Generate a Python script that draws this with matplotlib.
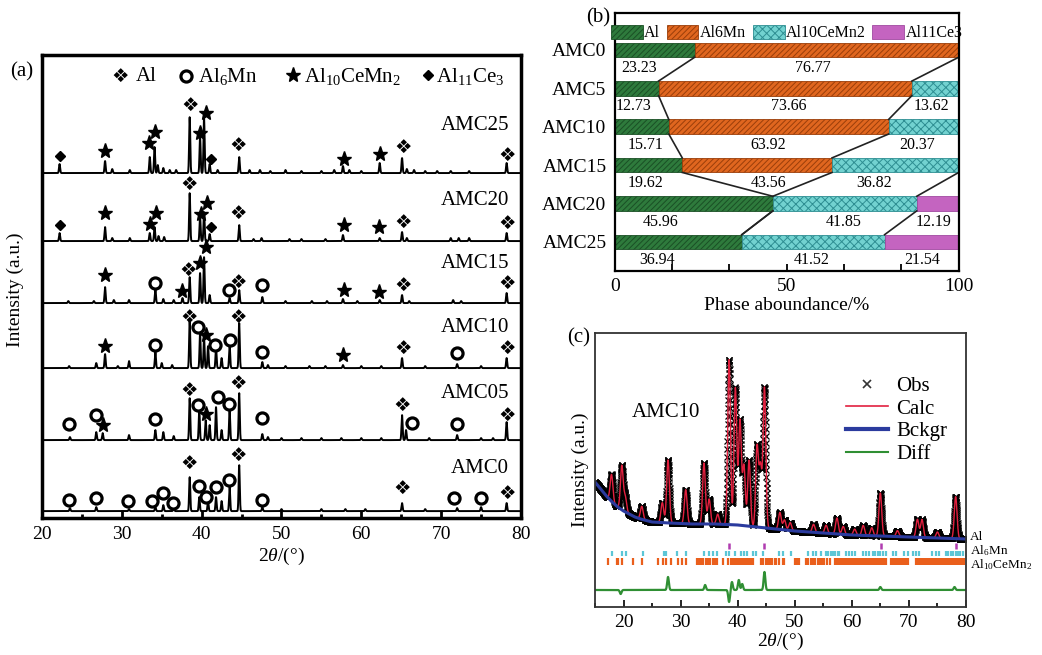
import numpy as np
import matplotlib.pyplot as plt
from matplotlib.ticker import MultipleLocator
from matplotlib.lines import Line2D

plt.rcParams['font.family'] = ['Liberation Serif', 'DejaVu Sans']
plt.rcParams['mathtext.fontset'] = 'custom'
plt.rcParams['mathtext.rm'] = 'Liberation Serif'
plt.rcParams['mathtext.it'] = 'Liberation Serif:italic'
plt.rcParams['hatch.linewidth'] = 0.7

# ---------------- (a) XRD patterns ----------------
samples_a = ['AMC0', 'AMC05', 'AMC10', 'AMC15', 'AMC20', 'AMC25']

pos_amc0 = [23.5, 26.8, 30.9, 34.2, 35.2, 36.5, 38.5, 39.7, 40.8, 41.8, 42.5, 43.5, 44.7,
            47.6, 50.0, 55.0, 58.0, 60.5, 65.1, 68.0, 72.0, 75.0, 78.2]
h_amc0 = [3, 4, 2, 4, 6, 3, 34, 14, 10, 14, 10, 24, 46,
          4, 2, 2, 2, 2, 8, 2, 3, 4, 8]

pos_amc05 = [23.5, 26.8, 27.6, 30.9, 34.2, 35.2, 36.5, 38.5, 39.7, 40.5, 41.0, 41.8, 42.5,
             43.5, 44.7, 47.6, 48.3, 50.0, 52.5, 55.0, 57.5, 60.0, 62.5, 65.1, 65.6, 68.5,
             72.0, 75.0, 76.5, 78.2]
h_amc05 = [3, 8, 7, 5, 10, 8, 4, 42, 30, 20, 15, 33, 10,
           30, 47, 6, 3, 2, 2, 2, 2, 2, 2, 25, 10, 2,
           5, 2, 2, 18]

pos_amc10 = [23.4, 26.8, 27.9, 29.5, 30.9, 34.2, 35.0, 36.3, 38.5, 39.8, 40.3, 40.8, 41.8,
             42.5, 43.5, 44.7, 47.6, 48.3, 50.5, 53.5, 55.5, 57.7, 60.0, 62.5, 65.1, 68.0,
             72.0, 75.0, 78.2]
h_amc10 = [2, 5, 14, 2, 7, 16, 5, 3, 48, 35, 30, 22, 20,
           10, 23, 45, 6, 3, 2, 2, 2, 3, 2, 2, 10, 2,
           4, 2, 10]

pos_amc15 = [23.3, 26.5, 27.9, 29.0, 30.9, 34.2, 35.2, 36.5, 37.6, 38.5, 39.8, 40.3, 41.0,
             43.5, 44.7, 47.6, 50.5, 53.8, 55.7, 57.7, 59.5, 62.3, 65.1, 66.0, 71.5, 72.5, 78.2]
h_amc15 = [2, 2, 16, 3, 3, 14, 4, 3, 5, 26, 30, 46, 8,
           5, 13, 6, 2, 2, 2, 4, 2, 3, 8, 2, 3, 2, 10]

pos_amc20 = [22.2, 27.9, 28.8, 31.0, 33.5, 34.1, 34.6, 35.3, 38.5, 39.8, 40.3, 41.0, 44.7,
             46.5, 47.5, 51.0, 52.5, 55.5, 57.7, 62.3, 65.1, 65.7, 71.2, 72.2, 73.5, 78.2]
h_amc20 = [8, 14, 3, 3, 8, 14, 5, 4, 48, 24, 29, 7, 16,
           2, 3, 2, 2, 2, 6, 3, 9, 3, 3, 3, 3, 8]

pos_amc25 = [22.2, 27.9, 28.8, 31.0, 33.5, 34.1, 34.5, 35.2, 36.0, 36.8, 38.5, 39.8, 40.3,
             41.0, 42.0, 44.7, 46.0, 47.3, 48.6, 50.5, 52.5, 55.0, 56.6, 57.7, 58.5, 60.0,
             62.3, 65.1, 65.7, 66.6, 68.0, 69.5, 71.2, 73.5, 78.2]
h_amc25 = [9, 12, 4, 3, 16, 26, 8, 5, 3, 3, 56, 36, 55,
           9, 3, 16, 3, 3, 2, 3, 2, 2, 3, 7, 3, 2,
           10, 15, 4, 3, 2, 2, 2, 2, 10]

# phase marks: (phase, 2theta, height above the pattern baseline)
marks_amc0 = [('mn', 23.4, 11), ('mn', 26.8, 13), ('mn', 30.8, 10), ('mn', 33.8, 10),
              ('mn', 35.1, 18), ('mn', 36.4, 8), ('al', 38.4, 48), ('mn', 39.7, 25),
              ('mn', 40.6, 14), ('mn', 41.8, 24), ('mn', 43.4, 31), ('al', 44.6, 56),
              ('mn', 47.6, 11), ('al', 65.1, 23), ('mn', 71.6, 13), ('mn', 75.0, 13),
              ('al', 78.3, 18)]
marks_amc05 = [('mn', 23.4, 16), ('mn', 26.8, 25), ('ce', 27.7, 15), ('mn', 34.1, 21),
               ('al', 38.4, 50), ('mn', 39.6, 35), ('ce', 40.5, 26), ('mn', 42.0, 43),
               ('mn', 43.4, 36), ('al', 44.6, 57), ('mn', 47.6, 22), ('al', 65.1, 35),
               ('mn', 66.3, 17), ('mn', 72.0, 16), ('al', 78.3, 25)]
marks_amc10 = [('ce', 27.9, 22), ('mn', 34.2, 23), ('al', 38.4, 51), ('mn', 39.6, 41),
               ('ce', 40.6, 33), ('mn', 41.7, 23), ('mn', 43.5, 28), ('al', 44.6, 51),
               ('mn', 47.6, 16), ('ce', 57.7, 13), ('al', 65.2, 20), ('mn', 72.0, 15),
               ('al', 78.3, 20)]
marks_amc15 = [('ce', 27.9, 28), ('mn', 34.2, 20), ('ce', 37.5, 12), ('al', 38.3, 33),
               ('ce', 39.8, 40), ('ce', 40.5, 56), ('mn', 43.4, 13), ('al', 44.6, 21),
               ('mn', 47.6, 18), ('ce', 57.8, 13), ('ce', 62.2, 11), ('al', 65.2, 18),
               ('al', 78.3, 20)]
marks_amc20 = [('ce3', 22.2, 16), ('ce', 27.9, 28), ('ce', 33.5, 17), ('ce', 34.3, 28),
               ('al', 38.4, 57), ('ce', 39.9, 27), ('ce', 40.7, 38), ('ce3', 41.2, 14),
               ('al', 44.6, 28), ('ce', 57.8, 16), ('ce', 62.2, 14), ('al', 65.2, 19),
               ('al', 78.3, 18)]
marks_amc25 = [('ce3', 22.2, 17), ('ce', 27.9, 22), ('ce', 33.4, 30), ('ce', 34.2, 41),
               ('al', 38.5, 68), ('ce', 40.5, 60), ('ce', 39.8, 40), ('ce3', 41.2, 14),
               ('al', 44.6, 28), ('ce', 57.8, 14), ('ce', 62.3, 19), ('al', 65.2, 26),
               ('al', 78.3, 18)]

# ---------------- (b) phase abundance ----------------
samples_b = ['AMC0', 'AMC5', 'AMC10', 'AMC15', 'AMC20', 'AMC25']
frac_al = [23.23, 12.73, 15.71, 19.62, 45.96, 36.94]
frac_al6mn = [76.77, 73.66, 63.92, 43.56, 0, 0]
frac_al10cemn2 = [0, 13.62, 20.37, 36.82, 41.85, 41.52]
frac_al11ce3 = [0, 0, 0, 0, 12.19, 21.54]

# ---------------- (c) Rietveld refinement of AMC10 ----------------
bg_x = [15, 16, 17, 18, 19, 20, 21, 22, 23, 25, 28, 32, 36, 40, 45, 50, 55, 60, 65, 70, 75, 80]
bg_y = [125, 118, 111, 105, 100, 96, 93, 90, 88, 85, 84, 83, 83, 82, 79, 76, 74, 72, 71, 70, 69, 68]
calc_pos = [17.9, 19.7, 20.3, 23.2, 26.8, 27.8, 30.9, 34.1, 35.0, 36.5, 38.5, 39.6, 40.4,
            41.1, 42.0, 43.4, 44.0, 44.7, 47.4, 48.2, 49.2, 53.3, 55.5, 57.4, 58.5, 60.5,
            62.0, 63.5, 65.0, 68.0, 71.5, 72.3, 75.0, 78.2]
calc_h = [27, 44, 15, 13, 20, 63, 34, 61, 25, 10, 165, 137, 105,
          60, 66, 80, 60, 140, 17, 10, 8, 8, 8, 16, 8, 6,
          10, 8, 43, 6, 18, 18, 6, 42]
diff_pos = [19.5, 27.8, 34.3, 38.5, 39.0, 40.2, 40.8, 44.7, 65.0, 78.0]
diff_h = [-4, 13, 5, -12, 8, 10, 6, 18, 3, 3]
ticks_al = [38.5, 44.7, 65.1, 78.2]
ticks_al6mn = [17.9, 19.8, 20.4, 23.4, 27.1, 27.4, 29.3, 31.0, 34.1, 35.0, 35.7, 36.4, 38.0,
               38.4, 39.5, 40.6, 41.1, 41.7, 42.7, 43.3, 44.5, 47.3, 47.9, 49.4, 52.3, 53.2,
               53.8, 54.6, 55.5, 55.9, 56.3, 56.7, 57.1, 57.5, 57.8, 59.0, 59.5, 60.0, 60.6,
               61.9, 62.5, 63.1, 63.7, 64.1, 64.6, 65.0, 65.5, 66.0, 67.2, 67.7, 69.2, 69.8,
               70.7, 71.2, 71.8, 74.1, 74.7, 75.3, 76.5, 76.9, 77.3, 77.8, 78.2, 78.6, 79.0, 79.4]
ticks_al10cemn2 = [17.3, 18.8, 19.1, 19.7, 21.7, 23.2, 26.1, 26.9, 27.5, 28.4, 29.6, 30.2, 31.0,
                   32.8, 33.2, 33.6, 34.0, 34.4, 34.8, 35.2, 35.6, 36.0, 36.3, 37.4, 38.3,
                   38.9, 39.2, 39.6, 39.9, 40.3, 40.6, 41.0, 41.3, 41.7, 42.0, 42.4, 42.7,
                   44.1, 44.5, 44.9, 45.3, 45.7, 46.1, 46.5, 46.8, 47.3, 47.9, 48.2, 50.0,
                   50.4, 50.8, 52.0, 52.4, 52.8, 53.2, 53.6, 54.0, 54.4, 54.8, 55.2, 55.6,
                   56.1, 57.0, 57.3, 57.6, 57.9, 58.2, 58.5, 58.8, 59.1, 59.4, 59.7, 60.0,
                   60.3, 60.6, 60.9, 61.2, 61.5, 61.8, 62.1, 62.4, 62.7, 63.0, 63.3, 63.6,
                   63.9, 64.2, 64.5, 64.8, 65.1, 65.4, 65.7, 66.0, 66.9, 67.2, 67.5, 67.8,
                   68.1, 68.4, 68.7, 69.0, 69.3, 69.6, 69.9, 71.2, 71.5, 71.8, 72.1, 72.4,
                   72.7, 73.0, 73.3, 73.6, 73.9, 74.2, 74.5, 74.8, 75.1, 75.4, 75.7, 76.0,
                   76.3, 76.6, 76.9, 77.2, 77.5, 77.8, 78.1, 78.4, 78.7, 79.0, 79.3, 79.6]


def peaks(x, pos, h, w):
    y = np.zeros_like(x)
    for p, a in zip(pos, h):
        y += a * np.exp(-0.5 * ((x - p) / w) ** 2)
    return y


fig = plt.figure(figsize=(10.42, 6.55), dpi=100)

# ================= panel (a) =================
ax = fig.add_axes([0.0403, 0.209, 0.4597, 0.707])
x = np.linspace(20, 80, 4001)
all_pos = [pos_amc0, pos_amc05, pos_amc10, pos_amc15, pos_amc20, pos_amc25]
all_h = [h_amc0, h_amc05, h_amc10, h_amc15, h_amc20, h_amc25]
all_marks = [marks_amc0, marks_amc05, marks_amc10, marks_amc15, marks_amc20, marks_amc25]
offsets = [7, 78, 150, 215, 277, 345]
label_dy = [43, 47, 41, 40, 41, 48]


def draw_mark(ax, kind, xx, yy):
    if kind == 'al':
        ax.text(xx, yy, '\u2756', fontsize=14, ha='center', va='center',
                family=['DejaVu Sans'])
    elif kind == 'mn':
        ax.plot(xx, yy, 'o', ms=8, mfc='white', mec='black', mew=2.3)
    elif kind == 'ce':
        ax.plot(xx, yy, '*', ms=11, color='black')
    else:
        ax.plot(xx, yy, 'D', ms=5.5, color='black')


for name, pos, h, marks, off, dy in zip(samples_a, all_pos, all_h, all_marks, offsets, label_dy):
    ax.plot(x, off + peaks(x, pos, h, 0.07), color='black', lw=1.4)
    for kind, tt, hh in marks:
        draw_mark(ax, kind, tt, off + hh)
    ax.text(78.5, off + dy, name, fontsize=15, ha='right', va='center')

# symbol key
draw_mark(ax, 'al', 29.75, 442)
ax.text(31.8, 442, 'Al', fontsize=15, va='center')
draw_mark(ax, 'mn', 38.1, 442)
ax.text(39.6, 442, 'Al$_6$Mn', fontsize=15, va='center')
draw_mark(ax, 'ce', 51.4, 443)
ax.text(52.8, 442, 'Al$_{10}$CeMn$_2$', fontsize=15, va='center')
draw_mark(ax, 'ce3', 68.4, 443)
ax.text(69.3, 442, 'Al$_{11}$Ce$_3$', fontsize=15, va='center')

ax.set_xlim(20, 80)
ax.set_ylim(0, 463)
ax.set_yticks([])
ax.xaxis.set_major_locator(MultipleLocator(10))
ax.xaxis.set_minor_locator(MultipleLocator(5))
ax.tick_params(axis='x', which='major', direction='in', length=6, width=2, labelsize=14, pad=6)
ax.tick_params(axis='x', which='minor', direction='in', length=3, width=2)
for s in ax.spines.values():
    s.set_linewidth(2.5)
ax.set_xlabel(r'2$\it{\theta}$/(°)', fontsize=14, labelpad=2)
fig.text(0.015, 0.557, 'Intensity (a.u.)', rotation=90, fontsize=14, ha='center', va='center')
fig.text(0.021, 0.89, '(a)', fontsize=15, ha='center', va='center')

# ================= panel (b) =================
bx = fig.add_axes([0.590, 0.586, 0.330, 0.394])
fracs = [frac_al, frac_al6mn, frac_al10cemn2, frac_al11ce3]
phase_labels = ['Al', 'Al6Mn', 'Al10CeMn2', 'Al11Ce3']
face = ['#2e7a3c', '#e0661f', '#72d2d0', '#c464c0']
edge = ['#1a4f25', '#9a3e0a', '#2e8e92', '#a04aa0']
hatch = ['//////', '//////', 'xxxx', None]
yb = np.arange(len(samples_b))
bh = 0.38
left = np.zeros(len(samples_b))
cums = []
for f, lab, fc, ec, ht in zip(fracs, phase_labels, face, edge, hatch):
    f = np.array(f, dtype=float)
    bx.barh(yb, f, height=bh, left=left, color=fc, edgecolor=ec, hatch=ht, lw=0.6, label=lab)
    left = left + f
    cums.append(left.copy())

# connecting lines between phase boundaries of neighbouring samples
for c in cums:
    for i in range(len(samples_b) - 1):
        if c[i] >= 99.99 and c[i + 1] >= 99.99:
            continue
        bx.plot([c[i], c[i + 1]], [yb[i] + bh / 2, yb[i + 1] - bh / 2], color='#222222', lw=1.2)

# value labels under each bar
label_x = [[7, 57.6], [5.5, 50.6, 92], [9, 44.6, 88], [9, 44.6, 75.4],
           [13.3, 66.6, 92.8], [12.3, 57.3, 89.3]]
for i in range(len(samples_b)):
    vals = [f[i] for f in fracs if f[i] > 0]
    for xv, v in zip(label_x[i], vals):
        bx.text(xv, yb[i] + 0.47, f'{v:.2f}', fontsize=11.5, ha='center', va='center')

bx.set_xlim(0, 100)
bx.set_ylim(5.76, -0.96)
bx.set_yticks(yb)
bx.set_yticklabels(samples_b)
bx.xaxis.set_major_locator(MultipleLocator(50))
bx.xaxis.set_minor_locator(MultipleLocator(100 / 6))
bx.tick_params(axis='y', length=0, labelsize=14, pad=6)
bx.tick_params(axis='x', which='major', direction='in', length=5, width=1.3, labelsize=14, pad=5)
bx.tick_params(axis='x', which='minor', direction='in', length=5, width=1.3)
for s in bx.spines.values():
    s.set_linewidth(1.6)
bx.set_xlabel('Phase aboundance/%', fontsize=14, labelpad=1)
bx.legend(loc='upper center', bbox_to_anchor=(0.5, 0.99), ncol=4, frameon=False,
          fontsize=11.5, handlelength=2.0, handleheight=0.9, handletextpad=0.1,
          columnspacing=0.4, borderaxespad=0.2)
fig.text(0.574, 0.973, '(b)', fontsize=15, ha='center', va='center')

# ================= panel (c) =================
cx = fig.add_axes([0.571, 0.0733, 0.356, 0.4183])
xc = np.linspace(15, 80, 3251)
bg = np.interp(xc, bg_x, bg_y)
calc = bg + peaks(xc, calc_pos, calc_h, 0.24)
cx.plot(xc, calc, 'x', color='black', ms=4.5, mew=0.9)
cx.plot(xc, calc, color='#e2203f', lw=1.0)
cx.plot(bg_x, bg_y, color='#2b3b9e', lw=2.2)
cx.plot(xc, 17 + peaks(xc, diff_pos, diff_h, 0.15), color='#2f8f33', lw=1.6)
cx.vlines(ticks_al, 58, 64, color='#b03cb0', lw=1.8)
cx.vlines(ticks_al6mn, 51, 56, color='#5cc6d6', lw=1.6)
cx.vlines(ticks_al10cemn2, 42, 49, color='#ea5f1c', lw=1.6)
cx.text(1.01, 70, 'Al', transform=cx.get_yaxis_transform(), fontsize=9.5, va='center')
cx.text(1.01, 56.5, 'Al$_6$Mn', transform=cx.get_yaxis_transform(), fontsize=9.5, va='center')
cx.text(1.01, 42, 'Al$_{10}$CeMn$_2$', transform=cx.get_yaxis_transform(), fontsize=9.5, va='center')
cx.text(21.5, 194, 'AMC10', fontsize=15, va='center')

handles = [Line2D([], [], ls='none', marker='x', color='#333333', ms=6, mew=1.2),
           Line2D([], [], color='#e2203f', lw=1.2),
           Line2D([], [], color='#2b3b9e', lw=3),
           Line2D([], [], color='#2f8f33', lw=1.5)]
cx.legend(handles, ['Obs', 'Calc', 'Bckgr', 'Diff'], loc='upper right',
          bbox_to_anchor=(1.0, 0.91), frameon=False, fontsize=15, handlelength=2.0,
          handletextpad=0.4, labelspacing=0.15)

cx.set_xlim(15, 80)
cx.set_ylim(0, 274)
cx.set_yticks([])
cx.xaxis.set_major_locator(MultipleLocator(10))
cx.xaxis.set_minor_locator(MultipleLocator(5))
cx.tick_params(axis='x', which='major', direction='in', length=5, width=1.2, labelsize=14, pad=5)
cx.tick_params(axis='x', which='minor', direction='in', length=3, width=1.2)
for s in cx.spines.values():
    s.set_linewidth(1.3)
    s.set_color('#333333')
cx.set_xlabel(r'2$\it{\theta}$/(°)', fontsize=14, labelpad=0)
fig.text(0.557, 0.283, 'Intensity (a.u.)', rotation=90, fontsize=14, ha='center', va='center')
fig.text(0.555, 0.484, '(c)', fontsize=15, ha='center', va='center')

fig.savefig('out.png', dpi=100)
